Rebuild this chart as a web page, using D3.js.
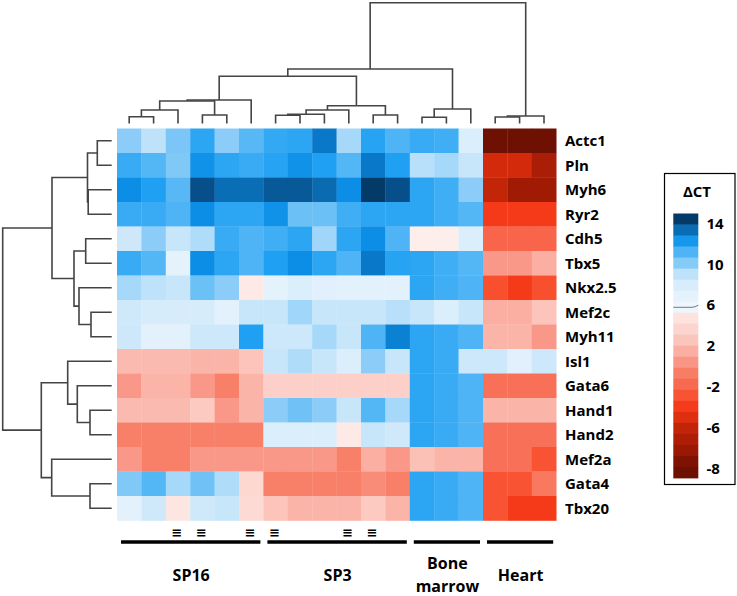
<!DOCTYPE html>
<html><head><meta charset="utf-8">
<script src="https://cdn.jsdelivr.net/npm/d3@7/dist/d3.min.js"></script>
<style>
body{margin:0;background:#fff}
svg{display:block}
text{font-family:"Open Sans",sans-serif;font-weight:700;fill:#000}
</style>
</head><body>
<svg id="chart" width="737" height="596"></svg>
<script>
// ---------------- DATA ----------------
const genes = ["Actc1","Pln","Myh6","Ryr2","Cdh5","Tbx5","Nkx2.5","Mef2c","Myh11","Isl1","Gata6","Hand1","Hand2","Mef2a","Gata4","Tbx20"];
const samples = ["SP16-1","SP16-2","SP16-3","SP16-4","SP16-5","SP16-6","SP3-1","SP3-2","SP3-3","SP3-4","SP3-5","SP3-6","BM-1","BM-2","BM-3","Heart-1","Heart-2","Heart-3"];
const sampleGroup = [0,0,0,0,0,0,1,1,1,1,1,1,2,2,2,3,3,3];
const groupNames = [["SP16"],["SP3"],["Bone","marrow"],["Heart"]];
const markedSamples = [2,3,5,6,9,10];
// ΔCT values, one row per gene (rows follow `genes`, columns follow `samples`)
const deltaCT = [
  [10,9,10.3,11.8,10,11,11.7,11.8,13,9.5,11.9,11.2,11.6,11.5,7.8,-8,-8,-8],          // Actc1
  [11.6,11.1,10.2,12.4,11.8,11.6,11.9,12.4,12,11.1,13,12,9.1,9.5,8.8,-5.5,-5.5,-6.7], // Pln
  [12.5,12,11,14,13.3,13.3,13.8,13.8,13.4,12.5,14.6,14,11.8,11.5,10,-6,-7,-7],        // Myh6
  [11.6,11.6,11.2,12.5,11.8,11.8,12.4,10.6,10.6,11.5,11.8,11.8,11.8,11.5,11.1,-4,-4,-4], // Ryr2
  [8.5,10,8.8,9.3,11.6,11.2,11.5,11.8,9.6,11.8,12.5,11.2,5.5,5.5,7.8,-2,-2,-2],       // Cdh5
  [11.6,11.1,7,12.5,11.8,11.2,12,12.5,11.8,11.2,13,11.9,11.8,11.5,11.1,0.5,0.5,1.5],  // Tbx5
  [9.5,9,8.8,10.6,10,5.2,7,7.8,7.4,7.1,7.1,7.1,11.8,11.5,11.2,-3,-4,-3],              // Nkx2.5
  [8.4,8,8,8,7.2,8.8,8.8,9.6,8.8,8.8,8.8,9.1,8.8,7.8,8.8,1.5,1.5,2.5],                // Mef2c
  [8.6,7.1,7.1,8.6,8.6,12,8.6,8.6,9.5,8.8,11.2,12.8,11.8,11.6,11.2,1.7,1.7,0.5],      // Myh11
  [2,2,2,1.7,1.7,2.5,8.8,9.3,8.8,7.8,10,8.8,11.8,11.6,8.6,8.6,7.4,8.6],              // Isl1
  [0.5,1.7,1.7,0.5,-0.5,1.7,3.2,3.2,3.2,3.2,3.2,3.2,11.8,11.6,11.2,-1.5,-1.5,-1.5],  // Gata6
  [2,2,2,2.8,0.5,1.7,10,10.5,10,8.8,11.1,9.5,11.8,11.6,11.2,1.7,1.7,1.7],            // Hand1
  [-0.5,-0.5,-0.5,-0.5,-0.5,-0.5,7.8,7.8,7.8,5.3,8.8,8.4,11.8,11.6,11.2,-1.5,-1.5,-1.5], // Hand2
  [0.5,-0.5,-0.5,0.5,0.5,0.5,0.5,0.5,0.5,-0.5,1.5,0.5,2.3,1.7,1.7,-1.5,-1.5,-2.8],   // Mef2a
  [10.2,11.1,9.5,10.5,9.3,3.8,-0.5,-0.5,-0.5,-0.5,0,-0.5,11.8,11.6,11.2,-2.8,-2.8,-1], // Gata4
  [7.1,8.4,5,8.4,8.8,4,2.5,1.7,1.7,1.7,2.8,1.7,11.8,11.6,11.2,-2.8,-4,-4]            // Tbx20
];
// hierarchical clustering (linkage: [a, b, height]; ids >= n are earlier merges)
const colLinkage = [
  [0,1,6.8],[18,2,13.5],[3,4,8.5],[19,20,22.5],[21,5,23.5],
  [6,7,8.2],[23,8,9.2],[24,9,13.5],[10,11,8.5],[25,26,17.8],
  [22,27,47.2],[12,13,6.2],[29,14,14.5],[28,30,54.5],
  [15,16,6.5],[32,17,7.5],[31,33,120.8]
];
const rowLinkage = [
  [0,1,14.4],[2,3,23.5],[16,17,24.2],[4,5,26],[7,8,20.7],[6,20,32.7],
  [19,21,37.7],[18,22,59.7],[11,12,21.7],[10,24,34.4],[9,25,44],
  [14,15,21.7],[13,27,60],[26,28,70.4],[23,29,109]
];
const legendTicks = [14,10,6,2,-2,-6,-8];

// ---------------- STYLE ----------------
const colorStops = [-8,-7,-5.5,-4,-3,-1.5,-0.5,0.5,1.7,3,5,5.7,5.75,7.5,8.8,9.5,10.5,11.5,12,12.5,13,13.5,14,14.6];
const colorRange = ["#6e1002","#a01a04","#d42a0c","#f53a1a","#f8502e","#f87058","#f88068","#f99888","#fbb4a8","#fccec6","#fde6e2","#fdf0ee","#edf6fd","#e0f0fc","#c8e6fa","#a5d8f9","#70c2f6","#40aef4","#1fa0f2","#0c8ee6","#0a78c8","#0a68aa","#064f8a","#043a68"];
const color = d3.scaleLinear().domain(colorStops).range(colorRange).clamp(true);

const svg = d3.select("#chart");
const x = d3.scaleBand().domain(d3.range(samples.length)).range([117, 556.2]);
const y = d3.scaleBand().domain(d3.range(genes.length)).range([128.5, 520.5]);

// heatmap cells
const cells = [];
deltaCT.forEach((row, r) => row.forEach((v, c) => cells.push({r, c, v})));
svg.append("g").selectAll("rect").data(cells).join("rect")
  .attr("x", d => x(d.c)).attr("y", d => y(d.r))
  .attr("width", x.bandwidth() + 0.3).attr("height", y.bandwidth() + 0.3)
  .attr("fill", d => color(d.v));

// dendrograms
function dendro(linkage, n, leafPos, hScale, orient) {
  const pos = [], ht = [];
  for (let i = 0; i < n; i++) { pos[i] = leafPos(i); ht[i] = 0; }
  const paths = [];
  linkage.forEach(([a, b, h], k) => {
    const id = n + k;
    pos[id] = (pos[a] + pos[b]) / 2; ht[id] = h;
    if (orient === "top")
      paths.push(`M${pos[a]},${hScale(ht[a])}V${hScale(h)}H${pos[b]}V${hScale(ht[b])}`);
    else
      paths.push(`M${hScale(ht[a])},${pos[a]}H${hScale(h)}V${pos[b]}H${hScale(ht[b])}`);
  });
  return paths;
}
const colH = d3.scaleLinear().domain([0, 120.8]).range([123.5, 2.7]);
const rowH = d3.scaleLinear().domain([0, 109]).range([111.7, 2.7]);
const dg = svg.append("g").attr("fill", "none").attr("stroke", "#444").attr("stroke-width", 1.6);
dg.selectAll("path.c").data(dendro(colLinkage, samples.length, i => x(i) + x.bandwidth()/2, colH, "top"))
  .join("path").attr("class", "c").attr("d", d => d);
dg.selectAll("path.r").data(dendro(rowLinkage, genes.length, i => y(i) + y.bandwidth()/2, rowH, "left"))
  .join("path").attr("class", "r").attr("d", d => d);

// gene labels
svg.append("g").selectAll("text").data(genes).join("text")
  .attr("x", 565).attr("y", (d, i) => y(i) + y.bandwidth()/2).attr("dy", "0.36em")
  .attr("font-size", 15).text(d => d);

// marks under columns
svg.append("g").selectAll("text").data(markedSamples).join("text")
  .attr("x", d => x(d) + x.bandwidth()/2 - 1).attr("y", 532.5).attr("dy", "0.36em")
  .attr("text-anchor", "middle").attr("font-size", 13).attr("font-weight", 700)
  .attr("font-family", "DejaVu Sans").style("font-family", "DejaVu Sans").text("≡");

// group bars and labels
const groups = groupNames.map((g, gi) => {
  const cols = d3.range(samples.length).filter(i => sampleGroup[i] === gi);
  return {lines: g, x0: x(d3.min(cols)), x1: x(d3.max(cols)) + x.bandwidth()};
});
svg.append("g").selectAll("line").data(groups).join("line")
  .attr("x1", d => d.x0 + 4).attr("x2", d => d.x1 - 3)
  .attr("y1", 542).attr("y2", 542).attr("stroke", "#000").attr("stroke-width", 3.5);
const gl = svg.append("g").selectAll("text").data(groups).join("text")
  .attr("text-anchor", "middle").attr("font-size", 16)
  .attr("x", d => (d.x0 + d.x1) / 2 + 1);
gl.each(function(d) {
  const t = d3.select(this);
  const y0 = d.lines.length === 1 ? 575 : 563;
  d.lines.forEach((s, i) => t.append("tspan").attr("x", (d.x0 + d.x1) / 2 + 1)
    .attr("y", y0 + i * 23).attr("dy", "0.36em").text(s));
});

// legend
const lg = svg.append("g");
lg.append("rect").attr("x", 664.5).attr("y", 173.5).attr("width", 70.5).attr("height", 311)
  .attr("fill", "#fff").attr("stroke", "#000").attr("stroke-width", 1.2);
lg.append("text").attr("x", 697).attr("y", 192).attr("dy", "0.36em")
  .attr("text-anchor", "middle").attr("font-size", 15).text("ΔCT");
const tickY = d3.scalePoint().domain(legendTicks).range([223.3, 468.3]);
const posToVal = d3.scaleLinear().domain(legendTicks.map(t => tickY(t))).range(legendTicks);
const barTop = 213.5, barBot = 478, nBands = 24, bandH = (barBot - barTop) / nBands;
lg.selectAll("rect.band").data(d3.range(nBands)).join("rect").attr("class", "band")
  .attr("x", 673.3).attr("width", 25).attr("y", i => barTop + i * bandH).attr("height", bandH + 0.4)
  .attr("fill", i => {
    const yc = barTop + (i + 0.5) * bandH;
    const v = yc < tickY(14) ? 14.6 : yc > tickY(-8) ? -8 : posToVal(yc);
    return color(v);
  });
lg.append("path").attr("d", "M673.3,307.3H692Q695,307.2 698.3,305.2")
  .attr("fill", "none").attr("stroke", "#777").attr("stroke-width", 1);
lg.selectAll("text.tk").data(legendTicks).join("text").attr("class", "tk")
  .attr("x", 706.5).attr("y", d => tickY(d)).attr("dy", "0.36em")
  .attr("font-size", 15).text(d => d);
</script>
</body></html>
